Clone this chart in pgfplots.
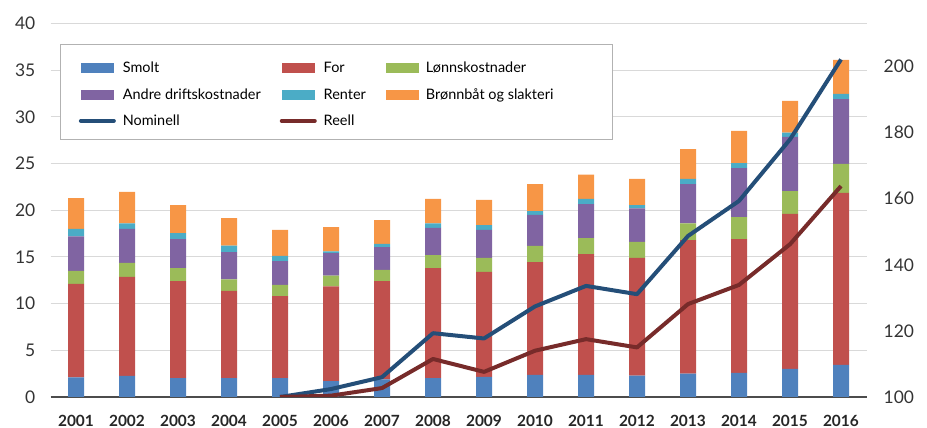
\documentclass[border=0pt]{standalone}
\usepackage{pgfplots}
\pgfplotsset{compat=1.18}
\usepackage{fontspec}
\setmainfont{Lato}
\definecolor{csmolt}{HTML}{4F81BD}
\definecolor{cfor}{HTML}{C0504D}
\definecolor{clonn}{HTML}{9BBB59}
\definecolor{candre}{HTML}{8064A2}
\definecolor{crenter}{HTML}{4BACC6}
\definecolor{cbronn}{HTML}{F79646}
\definecolor{cnom}{HTML}{244E78}
\definecolor{creell}{HTML}{772B2A}
\pgfplotsset{
 barleg/.style={legend image code/.code={\fill[##1] (0bp,-5bp) rectangle (33bp,5bp);}},
 lineleg/.style={legend image code/.code={\draw[##1, line width=4bp, line cap=round] (0bp,0bp) -- (33bp,0bp);}},
}
\begin{document}
\begin{tikzpicture}
\path[use as bounding box] (0bp,0bp) rectangle (927bp,428bp);
\begin{axis}[
 at={(50.5bp,31bp)}, anchor=south west,
 scale only axis, width=816bp, height=373.6bp,
 xmin=2000.5, xmax=2016.5, ymin=0, ymax=40,
 ybar stacked, bar width=16bp,
 xtick={2001,...,2016},
 ytick={0,5,...,40},
 /pgf/number format/assume math mode=true,
 /pgf/number format/1000 sep={},
 major tick length=0pt,
 axis x line*=bottom, axis y line*=left,
 x axis line style={draw=black!70, line width=1.3bp, -},
 y axis line style={draw=none},
 ymajorgrids, grid style={draw=black!15, line width=1bp},
 yticklabel style={font=\fontsize{17.5}{17.5}\selectfont, text=black!80, anchor=east, inner sep=0pt, xshift=-15bp},
 xticklabel style={font=\bfseries\fontsize{15.5}{15.5}\selectfont, text=black!85, anchor=north, inner sep=0pt, yshift=-18bp},
 legend columns=3,
 legend cell align=left,
 legend style={draw=none, fill=none, at={(rel axis cs:0.0345,0.9016)}, anchor=north west,
   font=\fontsize{14.5}{14.5}\selectfont, inner sep=0pt, row sep=10bp,
   /tikz/column 1/.style={column sep=5bp},
   /tikz/column 3/.style={column sep=5bp},
   /tikz/column 5/.style={column sep=5bp},
   /tikz/column 2/.style={column sep=17bp},
   /tikz/column 4/.style={column sep=18bp}},
]
\draw[draw=black!30, fill=white, line width=1bp] (rel axis cs:0.01287,0.9422) rectangle (rel axis cs:0.6893,0.6879);
\addplot[fill=csmolt, draw=none, barleg] coordinates {(2001,2.1)(2002,2.25)(2003,2.03)(2004,2.03)(2005,2.03)(2006,1.7)(2007,1.9)(2008,2.03)(2009,2.15)(2010,2.36)(2011,2.36)(2012,2.3)(2013,2.5)(2014,2.57)(2015,3.0)(2016,3.43)};
\addplot[fill=cfor, draw=none, barleg] coordinates {(2001,10.0)(2002,10.6)(2003,10.37)(2004,9.32)(2005,8.77)(2006,10.15)(2007,10.5)(2008,11.77)(2009,11.25)(2010,12.09)(2011,12.94)(2012,12.6)(2013,14.3)(2014,14.33)(2015,16.6)(2016,18.42)};
\addplot[fill=clonn, draw=none, barleg] coordinates {(2001,1.4)(2002,1.5)(2003,1.4)(2004,1.25)(2005,1.2)(2006,1.15)(2007,1.2)(2008,1.4)(2009,1.5)(2010,1.72)(2011,1.7)(2012,1.7)(2013,1.8)(2014,2.35)(2015,2.45)(2016,3.1)};
\addplot[fill=candre, draw=none, barleg] coordinates {(2001,3.7)(2002,3.65)(2003,3.1)(2004,2.9)(2005,2.55)(2006,2.4)(2007,2.45)(2008,2.9)(2009,3.0)(2010,3.33)(2011,3.65)(2012,3.6)(2013,4.2)(2014,5.25)(2015,5.8)(2016,6.95)};
\addplot[fill=crenter, draw=none, barleg] coordinates {(2001,0.8)(2002,0.6)(2003,0.65)(2004,0.7)(2005,0.55)(2006,0.2)(2007,0.35)(2008,0.5)(2009,0.5)(2010,0.4)(2011,0.55)(2012,0.35)(2013,0.55)(2014,0.55)(2015,0.45)(2016,0.55)};
\addplot[fill=cbronn, draw=none, barleg] coordinates {(2001,3.3)(2002,3.35)(2003,3.0)(2004,2.95)(2005,2.8)(2006,2.6)(2007,2.55)(2008,2.6)(2009,2.7)(2010,2.9)(2011,2.6)(2012,2.8)(2013,3.2)(2014,3.45)(2015,3.4)(2016,3.65)};
\legend{Smolt,For,Lønnskostnader,Andre driftskostnader,Renter,Brønnbåt og slakteri}
\addlegendimage{lineleg, draw=cnom}
\addlegendentry{Nominell}
\addlegendimage{lineleg, draw=creell}
\addlegendentry{Reell}
\end{axis}
\begin{axis}[
 at={(50.5bp,31bp)}, anchor=south west,
 scale only axis, width=816bp, height=373.6bp,
 xmin=2000.5, xmax=2016.5, ymin=100, ymax=213,
 ytick={100,120,...,200},
 /pgf/number format/assume math mode=true,
 major tick length=0pt,
 axis x line=none, axis y line*=right,
 y axis line style={draw=none},
 yticklabel style={font=\fontsize{17.5}{17.5}\selectfont, text=black!80, anchor=west, inner sep=0pt, xshift=17bp},
]
\addplot[cnom, line width=4bp, line join=round] coordinates {(2005,100)(2006,102.4)(2007,106)(2008,119.3)(2009,117.7)(2010,127.4)(2011,133.6)(2012,131.1)(2013,148.7)(2014,159.3)(2015,177.9)(2016,202.1)};
\addplot[creell, line width=4bp, line join=round] coordinates {(2005,100)(2006,100.4)(2007,102.7)(2008,111.5)(2009,107.6)(2010,114)(2011,117.5)(2012,115)(2013,128.1)(2014,133.9)(2015,146.2)(2016,163.8)};
\end{axis}
\end{tikzpicture}
\end{document}
